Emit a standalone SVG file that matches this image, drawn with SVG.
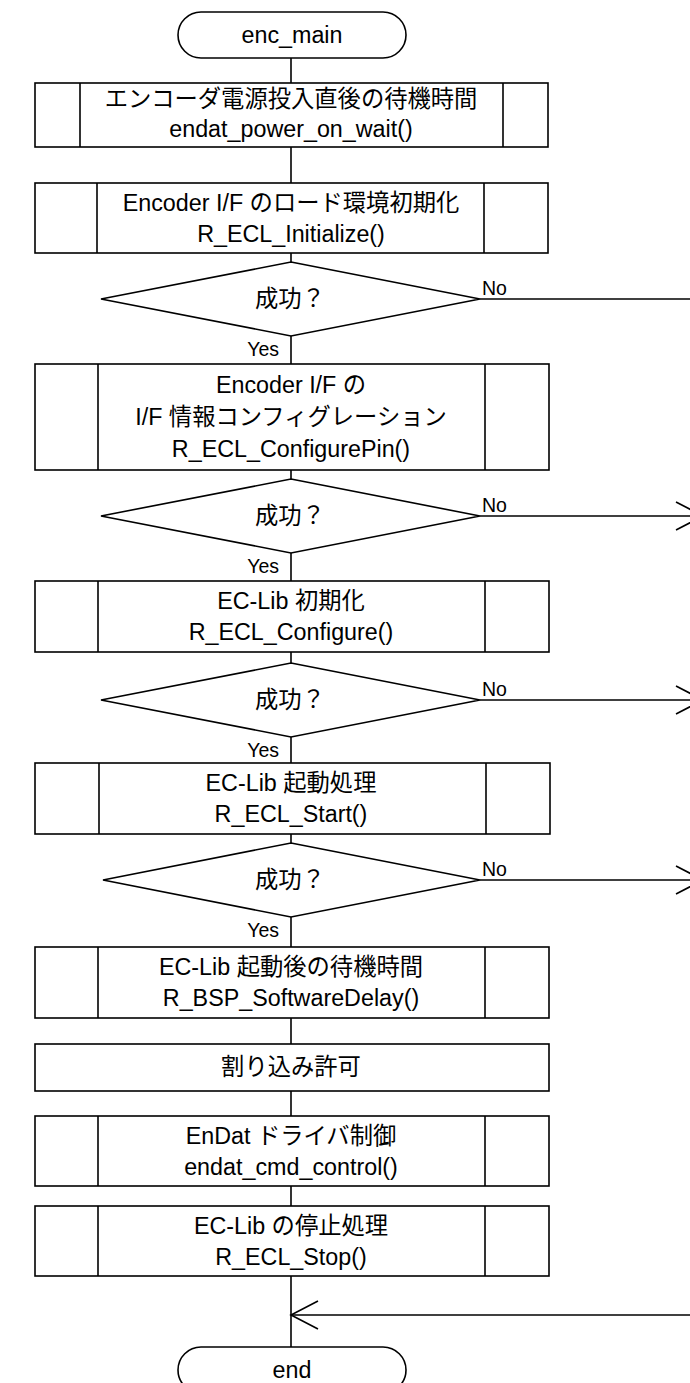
<svg xmlns="http://www.w3.org/2000/svg" width="690" height="1383" viewBox="0 0 690 1383">
<defs>
<style>
.s{fill:#fff;stroke:#000;stroke-width:1.6}
.l{fill:none;stroke:#000;stroke-width:1.6}
.t{font-family:"Liberation Sans","Noto Sans CJK JP",sans-serif;font-size:23.3px;fill:#000;text-anchor:middle}
.lb{font-family:"Liberation Sans","Noto Sans CJK JP",sans-serif;font-size:19.5px;fill:#000}
</style>
<marker id="ah" viewBox="0 0 30 30" refX="28" refY="15" markerWidth="30" markerHeight="30" markerUnits="userSpaceOnUse" orient="auto">
<path d="M1,1 L28,15 L1,29" fill="none" stroke="#000" stroke-width="1.6"/>
</marker>
</defs>
<rect width="690" height="1383" fill="#fff"/>
<g id="connectors">
<line class="l" x1="291" y1="58" x2="291" y2="83"/>
<line class="l" x1="291" y1="147" x2="291" y2="183"/>
<line class="l" x1="291" y1="253" x2="291" y2="262"/>
<line class="l" x1="291" y1="336" x2="291" y2="364"/>
<line class="l" x1="291" y1="470" x2="291" y2="479"/>
<line class="l" x1="291" y1="553" x2="291" y2="581"/>
<line class="l" x1="291" y1="652" x2="291" y2="663"/>
<line class="l" x1="291" y1="737" x2="291" y2="763"/>
<line class="l" x1="291" y1="834" x2="291" y2="843"/>
<line class="l" x1="291" y1="917" x2="291" y2="947"/>
<line class="l" x1="291" y1="1018" x2="291" y2="1044"/>
<line class="l" x1="291" y1="1091" x2="291" y2="1116"/>
<line class="l" x1="291" y1="1186" x2="291" y2="1206"/>
<line class="l" x1="291" y1="1276" x2="291" y2="1347"/>
<line class="l" x1="480" y1="299" x2="690" y2="299"/>
<line class="l" x1="480" y1="516" x2="703" y2="516" marker-end="url(#ah)"/>
<line class="l" x1="480" y1="700" x2="703" y2="700" marker-end="url(#ah)"/>
<line class="l" x1="480" y1="880" x2="703" y2="880" marker-end="url(#ah)"/>
<line class="l" x1="700" y1="1315" x2="291" y2="1315" marker-end="url(#ah)"/>
<text class="lb" x="482" y="295">No</text>
<text class="lb" x="482" y="512">No</text>
<text class="lb" x="482" y="696">No</text>
<text class="lb" x="482" y="876">No</text>
<text class="lb" x="279" y="356" text-anchor="end">Yes</text>
<text class="lb" x="279" y="573" text-anchor="end">Yes</text>
<text class="lb" x="279" y="757" text-anchor="end">Yes</text>
<text class="lb" x="279" y="937" text-anchor="end">Yes</text>
</g>
<g id="start">
<rect class="s" x="178" y="12" width="228" height="46" rx="23"/>
<text class="t" x="292" y="43">enc_main</text>
</g>
<g id="p1">
<rect class="s" x="35" y="83" width="513" height="64"/>
<line class="l" x1="80" y1="83" x2="80" y2="147"/>
<line class="l" x1="503" y1="83" x2="503" y2="147"/>
<text class="t" x="291" y="107">エンコーダ電源投入直後の待機時間</text>
<text class="t" x="291" y="137">endat_power_on_wait()</text>
</g>
<g id="p2">
<rect class="s" x="35" y="183" width="513" height="70"/>
<line class="l" x1="97" y1="183" x2="97" y2="253"/>
<line class="l" x1="484" y1="183" x2="484" y2="253"/>
<text class="t" x="291" y="211">Encoder I/F のロード環境初期化</text>
<text class="t" x="291" y="242">R_ECL_Initialize()</text>
</g>
<g id="d1">
<polygon class="s" points="291,262 480,299 291,336 101,299"/>
<text class="t" x="290" y="307">成功？</text>
</g>
<g id="p3">
<rect class="s" x="35" y="364" width="514" height="106"/>
<line class="l" x1="98" y1="364" x2="98" y2="470"/>
<line class="l" x1="485" y1="364" x2="485" y2="470"/>
<text class="t" x="291" y="393">Encoder I/F の</text>
<text class="t" x="291" y="425">I/F 情報コンフィグレーション</text>
<text class="t" x="291" y="457">R_ECL_ConfigurePin()</text>
</g>
<g id="d2">
<polygon class="s" points="291,479 480,516 291,553 101,516"/>
<text class="t" x="290" y="524">成功？</text>
</g>
<g id="p4">
<rect class="s" x="35" y="581" width="514" height="71"/>
<line class="l" x1="98" y1="581" x2="98" y2="652"/>
<line class="l" x1="485" y1="581" x2="485" y2="652"/>
<text class="t" x="291" y="609">EC-Lib 初期化</text>
<text class="t" x="291" y="640">R_ECL_Configure()</text>
</g>
<g id="d3">
<polygon class="s" points="291,663 480,700 291,737 101,700"/>
<text class="t" x="290" y="708">成功？</text>
</g>
<g id="p5">
<rect class="s" x="35" y="763" width="515" height="71"/>
<line class="l" x1="99" y1="763" x2="99" y2="834"/>
<line class="l" x1="486" y1="763" x2="486" y2="834"/>
<text class="t" x="291" y="791">EC-Lib 起動処理</text>
<text class="t" x="291" y="822">R_ECL_Start()</text>
</g>
<g id="d4">
<polygon class="s" points="291,843 480,880 291,917 103,880"/>
<text class="t" x="290" y="888">成功？</text>
</g>
<g id="p6">
<rect class="s" x="35" y="947" width="514" height="71"/>
<line class="l" x1="98" y1="947" x2="98" y2="1018"/>
<line class="l" x1="485" y1="947" x2="485" y2="1018"/>
<text class="t" x="291" y="975">EC-Lib 起動後の待機時間</text>
<text class="t" x="291" y="1006">R_BSP_SoftwareDelay()</text>
</g>
<g id="p7">
<rect class="s" x="35" y="1044" width="514" height="47"/>
<text class="t" x="291" y="1075">割り込み許可</text>
</g>
<g id="p8">
<rect class="s" x="35" y="1116" width="514" height="70"/>
<line class="l" x1="98" y1="1116" x2="98" y2="1186"/>
<line class="l" x1="485" y1="1116" x2="485" y2="1186"/>
<text class="t" x="291" y="1144">EnDat ドライバ制御</text>
<text class="t" x="291" y="1175">endat_cmd_control()</text>
</g>
<g id="p9">
<rect class="s" x="35" y="1206" width="514" height="70"/>
<line class="l" x1="98" y1="1206" x2="98" y2="1276"/>
<line class="l" x1="485" y1="1206" x2="485" y2="1276"/>
<text class="t" x="291" y="1234">EC-Lib の停止処理</text>
<text class="t" x="291" y="1265">R_ECL_Stop()</text>
</g>
<g id="end">
<rect class="s" x="178" y="1347" width="228" height="46" rx="23"/>
<text class="t" x="292" y="1378">end</text>
</g>
</svg>
